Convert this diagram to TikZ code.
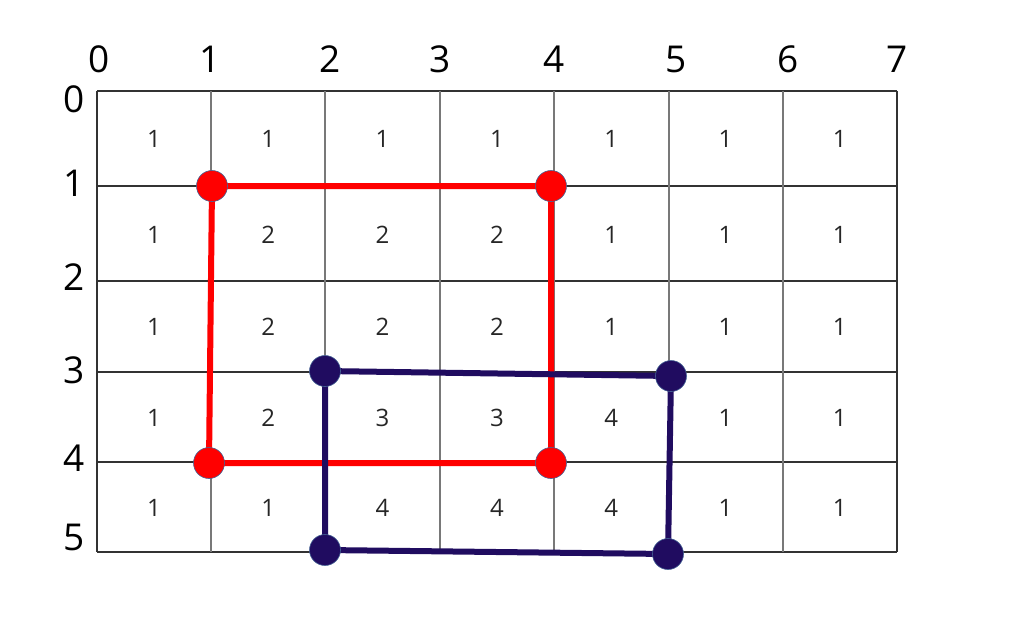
\documentclass[tikz,border=0pt]{standalone}
\usepackage{fontspec}
\setmainfont{Open Sans}
\definecolor{gridh}{RGB}{50,50,50}
\definecolor{gridv}{RGB}{120,120,120}
\definecolor{dotred}{RGB}{255,0,0}
\definecolor{dotblue}{RGB}{32,12,96}
\definecolor{dotedge}{RGB}{70,100,150}
\begin{document}
\begin{tikzpicture}[x=1pt,y=-1pt,
  hline/.style={draw=gridh,line width=1.3pt},
  vline/.style={draw=gridv,line width=1.3pt},
  axislab/.style={font=\fontsize{37}{40}\selectfont,inner sep=0pt,anchor=center},
  cellnum/.style={font=\fontsize{24}{26}\selectfont,text=black!85,inner sep=0pt,anchor=center},
  redline/.style={draw=dotred,line width=6pt},
  blueline/.style={draw=dotblue,line width=6pt},
  reddot/.style={circle,fill=dotred,draw=dotedge,line width=0.6pt,minimum size=31pt,inner sep=0pt},
  bluedot/.style={circle,fill=dotblue,draw=dotedge,line width=0.6pt,minimum size=31pt,inner sep=0pt}]
\useasboundingbox (0,0) rectangle (1015,627);
% grid
\foreach \y in {91,186,281,372,462,552} \draw[hline] (97,\y) -- (897,\y);
\foreach \x in {211,325,440,554,669,783} \draw[vline] (\x,91) -- (\x,552);
\draw[hline] (97,91) -- (97,552);
\draw[hline] (897,91) -- (897,552);
% axis labels
\foreach \x/\t [count=\i from 0] in {99/0,210/1,330/2,440/3,554/4,676/5,788/6,897/7}
  \node[axislab] (top\i) at (\x,59) {\t};
\foreach \y/\t [count=\i from 0] in {99/0,183/1,277/2,370/3,458/4,537/5}
  \node[axislab] (left\i) at (74,\y) {\t};
% cell numbers
\foreach \r/\yc/\vals in {0/139/{1,1,1,1,1,1,1},1/235/{1,2,2,2,1,1,1},2/327/{1,2,2,2,1,1,1},3/418/{1,2,3,3,4,1,1},4/508/{1,1,4,4,4,1,1}}{
  \foreach \v [count=\c from 0] in \vals {
    \node[cellnum] (c\r-\c) at ({154+114.3*\c},\yc) {\v};
  }
}
% corner points
\coordinate (r1) at (212,186);
\coordinate (r2) at (551,186);
\coordinate (r3) at (551,463);
\coordinate (r4) at (209,463);
\coordinate (b1) at (325,371);
\coordinate (b2) at (671,376);
\coordinate (b3) at (668,554);
\coordinate (b4) at (325,550);
\draw[redline] (r1) -- (r2) -- (r3) -- (r4) -- cycle;
\draw[blueline] (b1) -- (b2) -- (b3) -- (b4) -- cycle;
\foreach \p in {r1,r2,r3,r4} \node[reddot] (d\p) at (\p) {};
\foreach \p in {b1,b2,b3,b4} \node[bluedot] (d\p) at (\p) {};
\end{tikzpicture}
\end{document}
